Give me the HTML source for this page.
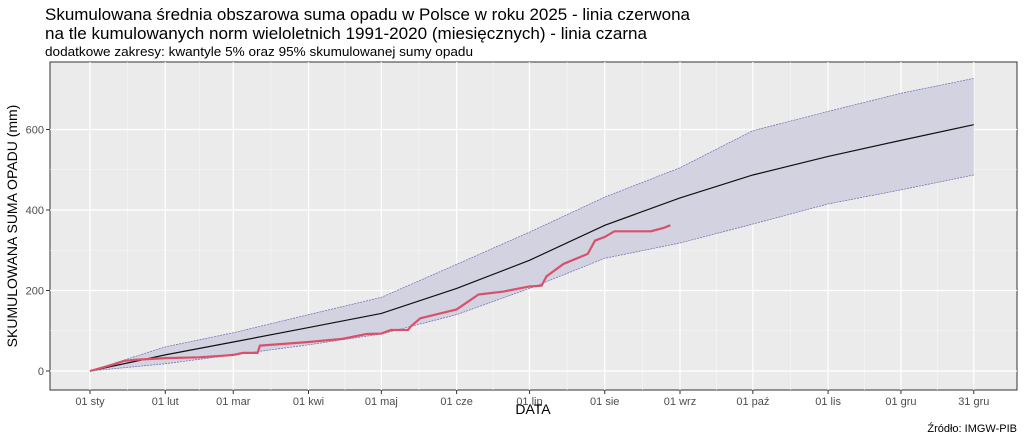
<!DOCTYPE html>
<html><head><meta charset="utf-8"><style>
body{margin:0;background:#fff;width:1024px;height:439px;overflow:hidden;font-family:"Liberation Sans",sans-serif}
svg text{font-family:"Liberation Sans",sans-serif}
</style></head><body>
<svg id="chart" width="1024" height="439" xmlns="http://www.w3.org/2000/svg">
<text x="45" y="20" font-size="17" fill="#000" textLength="645" lengthAdjust="spacingAndGlyphs">Skumulowana średnia obszarowa suma opadu w Polsce w roku 2025 - linia czerwona</text>
<text x="45" y="39" font-size="17" fill="#000" textLength="602" lengthAdjust="spacingAndGlyphs">na tle kumulowanych norm wieloletnich 1991-2020 (miesięcznych) - linia czarna</text>
<text x="45" y="56" font-size="13" fill="#000" textLength="428" lengthAdjust="spacingAndGlyphs">dodatkowe zakresy: kwantyle 5% oraz 95% skumulowanej sumy opadu</text>
<rect x="50" y="62" width="967" height="328" fill="#ebebeb" stroke="#333" stroke-width="1"/>
<g id="grid"></g>
<g id="marks"></g>
<g id="axes"></g>
<text transform="translate(17,226) rotate(-90)" text-anchor="middle" font-size="14" fill="#000">SKUMULOWANA SUMA OPADU (mm)</text>
<text x="533" y="414" text-anchor="middle" font-size="14" fill="#000">DATA</text>
<text x="1017" y="432" text-anchor="end" font-size="11" fill="#000">Źródło: IMGW-PIB</text>
</svg>
<script>
const tickDays=[0,31,59,90,120,151,181,212,243,273,304,334,364];
const tickLabels=["01 sty","01 lut","01 mar","01 kwi","01 maj","01 cze","01 lip","01 sie","01 wrz","01 paź","01 lis","01 gru","31 gru"];
const yTicks=[0,200,400,600];
const normValues=[0,40,72,108,143,205,275,362,430,487,533,573,612];
const upperValues=[0,60,95,140,183,265,345,432,505,597,645,690,727];
const lowerValues=[0,18,40,65,92,140,205,280,318,365,415,450,487];
const redDays=[0,9,14,19,31,45,55,59,63,69,70,90,104,114,120,124,131,132,136,151,160,170,181,186,188,195,205,208,212,216,231,236,239];
const redValues=[0,15,25,28,32,34,38,40,45,45,63,72,80,92,93,102,102,110,131,153,190,197,210,212,235,266,291,324,333,347,347,355,362];

const X=d=>90+d*2.428;
const Y=v=>371-v*0.4025;
const ns="http://www.w3.org/2000/svg";
function mk(tag,attrs,parent){const e=document.createElementNS(ns,tag);for(const k in attrs)e.setAttribute(k,attrs[k]);parent.appendChild(e);return e;}
const grid=document.getElementById('grid'),marks=document.getElementById('marks'),axes=document.getElementById('axes');
for(let i=0;i<yTicks.length-1;i++){const v=(yTicks[i]+yTicks[i+1])/2;const l=mk('line',{x1:50,x2:1017,y1:Y(v),y2:Y(v),stroke:'#f7f7f7','stroke-width':0.6},grid);

}
for(let i=0;i<tickDays.length-1;i++){const d=(tickDays[i]+tickDays[i+1])/2;const l=mk('line',{x1:X(d),x2:X(d),y1:62,y2:390,stroke:'#f7f7f7','stroke-width':0.6},grid);

}
yTicks.forEach(v=>{const l=mk('line',{x1:50,x2:1017,y1:Y(v),y2:Y(v),stroke:'#fff','stroke-width':1.2},grid);


const t=mk('text',{x:44,y:Y(v)+4,'text-anchor':'end','font-size':11,fill:'#4d4d4d'},axes);t.textContent=v;


mk('line',{x1:46,x2:50,y1:Y(v),y2:Y(v),stroke:'#333'},axes);});
tickDays.forEach((d,i)=>{const l=mk('line',{x1:X(d),x2:X(d),y1:62,y2:390,stroke:'#fff','stroke-width':1.2},grid);


mk('line',{x1:X(d),x2:X(d),y1:390,y2:394,stroke:'#333'},axes);
const t=mk('text',{x:X(d),y:405,'text-anchor':'middle','font-size':11,fill:'#4d4d4d'},axes);t.textContent=tickLabels[i];

});
let up=tickDays.map((d,i)=>X(d)+','+Y(upperValues[i]));
let lo=tickDays.map((d,i)=>X(d)+','+Y(lowerValues[i])).reverse();
const band=mk('polygon',{points:up.concat(lo).join(' '),fill:'#d2d2e0',stroke:'none'},marks);


const ul=mk('polyline',{points:up.join(' '),fill:'none',stroke:'#6a6ab0','stroke-width':0.7,'stroke-dasharray':'2,1'},marks);


const ll=mk('polyline',{points:lo.join(' '),fill:'none',stroke:'#6a6ab0','stroke-width':0.7,'stroke-dasharray':'2,1'},marks);


const nl=mk('polyline',{points:tickDays.map((d,i)=>X(d)+','+Y(normValues[i])).join(' '),fill:'none',stroke:'#111','stroke-width':1.2},marks);


const rl=mk('polyline',{points:redDays.map((d,i)=>X(d)+','+Y(redValues[i])).join(' '),fill:'none',stroke:'#d9506a','stroke-width':2.2,'stroke-linejoin':'round'},marks);


</script>
</body></html>
